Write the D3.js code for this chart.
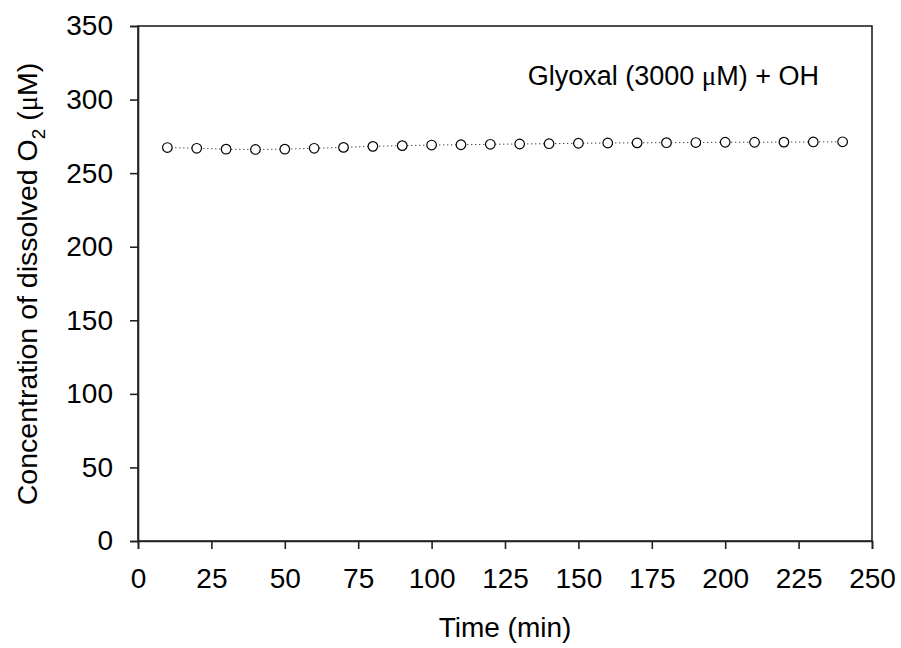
<!DOCTYPE html>
<html>
<head>
<meta charset="utf-8">
<script src="https://cdn.jsdelivr.net/npm/d3@7"></script>
<style>
  body { margin: 0; background: #fff; }
  svg text { font-family: "Liberation Sans", Arial, sans-serif; fill: #000; }
</style>
</head>
<body>
<svg id="chart" width="901" height="648"></svg>
<script>
// time points (min) and dissolved O2 (uM)
const times = [10, 20, 30, 40, 50, 60, 70, 80, 90, 100, 110, 120,
               130, 140, 150, 160, 170, 180, 190, 200, 210, 220, 230, 240];
const oxygen = [267.4, 266.9, 266.3, 266.1, 266.3, 266.9, 267.5, 268.2, 268.7, 269.1, 269.3, 269.6,
                269.8, 270.0, 270.3, 270.5, 270.6, 270.7, 270.8, 271.0, 271.0, 271.1, 271.2, 271.3];
const xTicks = [0, 25, 50, 75, 100, 125, 150, 175, 200, 225, 250];
const yTicks = [0, 50, 100, 150, 200, 250, 300, 350];

const margin = {left: 138, top: 26, right: 29, bottom: 107};
const svg = d3.select('#chart');
const width = 901 - margin.left - margin.right;
const height = 648 - margin.top - margin.bottom;

const x = d3.scaleLinear().domain([0, 250]).range([0, width]);
const y = d3.scaleLinear().domain([0, 350]).range([height, 0]);

const g = svg.append('g').attr('transform', `translate(${margin.left},${margin.top})`);

// frame
g.append('rect')
    .attr('width', width).attr('height', height)
    .attr('fill', 'none').attr('stroke', '#222').attr('stroke-width', 1.6);

let xAxis = g.append('g')
    .attr('transform', `translate(0,${height})`)
    .call(d3.axisBottom(x).tickValues(xTicks).tickSize(8).tickPadding(19));
let yAxis = g.append('g')
    .call(d3.axisLeft(y).tickValues(yTicks).tickSize(8).tickPadding(17));

[xAxis, yAxis].forEach(a => {
    a.select('.domain').attr('stroke', '#222').attr('stroke-width', 1.6);
    a.selectAll('.tick line').attr('stroke', '#222').attr('stroke-width', 1.6);
    a.selectAll('.tick text').style('font-size', '28px');
});

// dotted connecting line
const line = d3.line().x((d, i) => x(times[i])).y(d => y(d));
g.append('path')
    .datum(oxygen)
    .attr('d', line)
    .attr('fill', 'none')
    .attr('stroke', '#000')
    .attr('stroke-width', 1)
    .attr('stroke-dasharray', '1,3');

g.selectAll('.pt')
    .data(oxygen)
    .enter()
        .append('circle')
        .attr('class', 'pt')
        .attr('cx', (d, i) => x(times[i]))
        .attr('cy', d => y(d))
        .attr('r', 4.8)
        .attr('fill', '#fff')
        .attr('stroke', '#000')
        .attr('stroke-width', 1.2);

// annotation
let note = svg.append('text')
    .attr('x', 819)
    .attr('y', 85)
    .attr('text-anchor', 'end')
    .style('font-size', '27px');
note.append('tspan').text('Glyoxal (3000 ');
note.append('tspan').style('font-family', '"Liberation Serif", serif').text('\u03bc');
note.append('tspan').text('M) + OH');

// axis titles
svg.append('text')
    .attr('x', 505)
    .attr('y', 637)
    .attr('text-anchor', 'middle')
    .style('font-size', '28px')
    .text('Time (min)');

let yt = svg.append('text')
    .attr('transform', `translate(37,284) rotate(-90)`)
    .attr('text-anchor', 'middle')
    .style('font-size', '28.5px');
yt.append('tspan').text('Concentration of dissolved O');
yt.append('tspan').attr('dy', 8).style('font-size', '19px').text('2');
yt.append('tspan').attr('dy', -8).text(' (');
yt.append('tspan').style('font-family', '"Liberation Serif", serif').text('\u03bc');
yt.append('tspan').text('M)');
</script>
</body>
</html>
